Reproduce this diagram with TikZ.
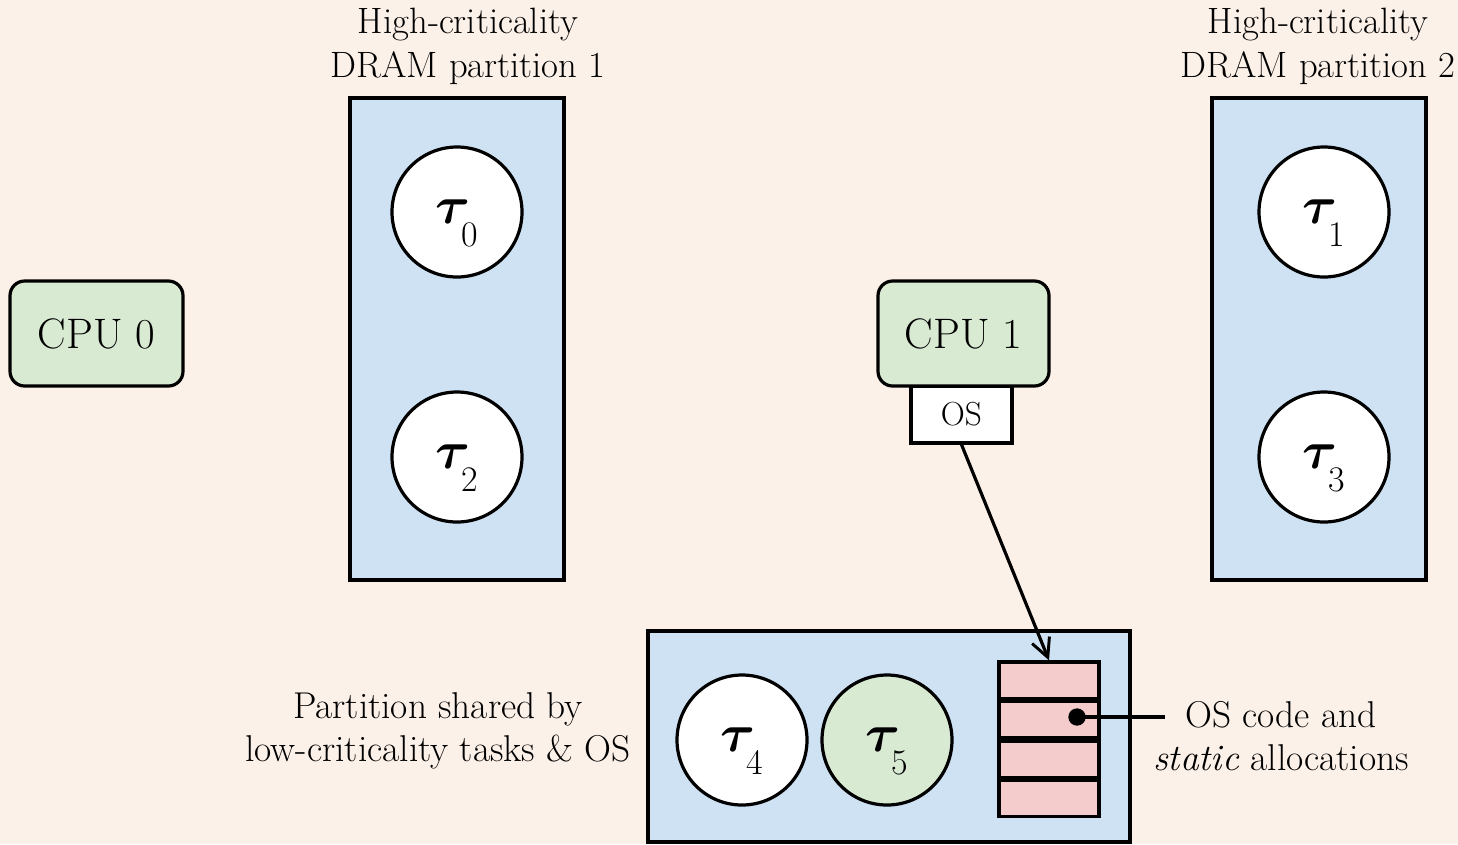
\RequirePackage{fix-cm}
\documentclass[tikz,border=0pt]{standalone}
\usepackage{amsmath,bm}
\usetikzlibrary{arrows.meta}
\definecolor{paper}{HTML}{FCF1E9}
\definecolor{membg}{HTML}{CFE2F3}
\definecolor{cpubg}{HTML}{D9EAD3}
\definecolor{osbg}{HTML}{F4CCCC}
\tikzset{
  edge/.style={line width=2.4pt},
  part/.style={draw, edge, fill=membg, inner sep=0pt},
  cpu/.style={draw, edge, fill=cpubg, rounded corners=11pt, inner sep=0pt,
    minimum height=78.75pt, font=\fontsize{32}{38}\selectfont},
  task/.style={draw, edge, circle, fill=white, minimum size=97.5pt, inner sep=0pt,
    font=\fontsize{40}{44}\selectfont},
  slot/.style={draw, edge, fill=osbg, minimum width=75pt, minimum height=27.2pt, inner sep=0pt},
  toplbl/.style={align=center, font=\fontsize{27.5}{33}\selectfont, inner sep=0pt},
  lbl/.style={align=center, font=\fontsize{28}{32.5}\selectfont, inner sep=0pt},
}
% task symbol: bold tau with a deep, large index
\newcommand{\tk}[1]{$\bm{\tau}$\kern-6.5pt\raisebox{-17pt}[0pt][0pt]{\fontsize{27}{27}\selectfont #1}}
\begin{document}
\begin{tikzpicture}[x=0.75pt, y=-0.75pt]
  \fill[paper] (0,0) rectangle (1458,844);
  \useasboundingbox (0,0) rectangle (1458,844);

  % high-criticality partitions
  \node[part, minimum width=160.5pt, minimum height=361.5pt] (p1) at (457,339) {};
  \node[part, minimum width=160.5pt, minimum height=361.5pt] (p2) at (1319,339) {};
  \node[toplbl] (l1) at (468,46) {High-criticality\\DRAM partition 1};
  \node[toplbl] (l2) at (1318,46) {High-criticality\\DRAM partition 2};

  \node[task] (t0) at (457,212) {\tk{0}};
  \node[task] (t2) at (457,457) {\tk{2}};
  \node[task] (t1) at (1324,212) {\tk{1}};
  \node[task] (t3) at (1324,457) {\tk{3}};

  % cores
  \node[cpu, minimum width=129.75pt] (c0) at (96.5,333.5) {CPU 0};
  \node[draw, edge, fill=white, minimum width=75.75pt, minimum height=42.75pt,
    inner sep=0pt, font=\fontsize{25}{28}\selectfont] (os) at (961.5,414.5) {OS};
  \node[cpu, minimum width=128.25pt] (c1) at (963.5,333.5) {CPU 1};

  % shared partition
  \node[part, minimum width=361.5pt, minimum height=158.25pt] (ps) at (889,736.5) {};
  \node[task] (t4) at (742,740) {\tk{4}};
  \node[task, fill=cpubg] (t5) at (887,740) {\tk{5}};
  \node[slot] (s1) at (1049,680.1) {};
  \node[slot, anchor=north] (s2) at (s1.south) {};
  \node[slot, anchor=north] (s3) at (s2.south) {};
  \node[slot, anchor=north] (s4) at (s3.south) {};
  \node[lbl] (ls) at (438,731) {Partition shared by\\low-criticality tasks \& OS};

  % OS code pointer and callout
  \draw[edge, -{Straight Barb[length=14pt, width=14pt, line width=2.2pt]}]
    (os.south) -- (s1.north);
  \coordinate (dot) at (1077,717);
  \fill (dot) circle (6.5pt);
  \node[lbl] (lo) at (1281,736) {OS code and\\\textit{static} allocations};
  \draw[edge] (dot) -- (1165,717);
\end{tikzpicture}
\end{document}
